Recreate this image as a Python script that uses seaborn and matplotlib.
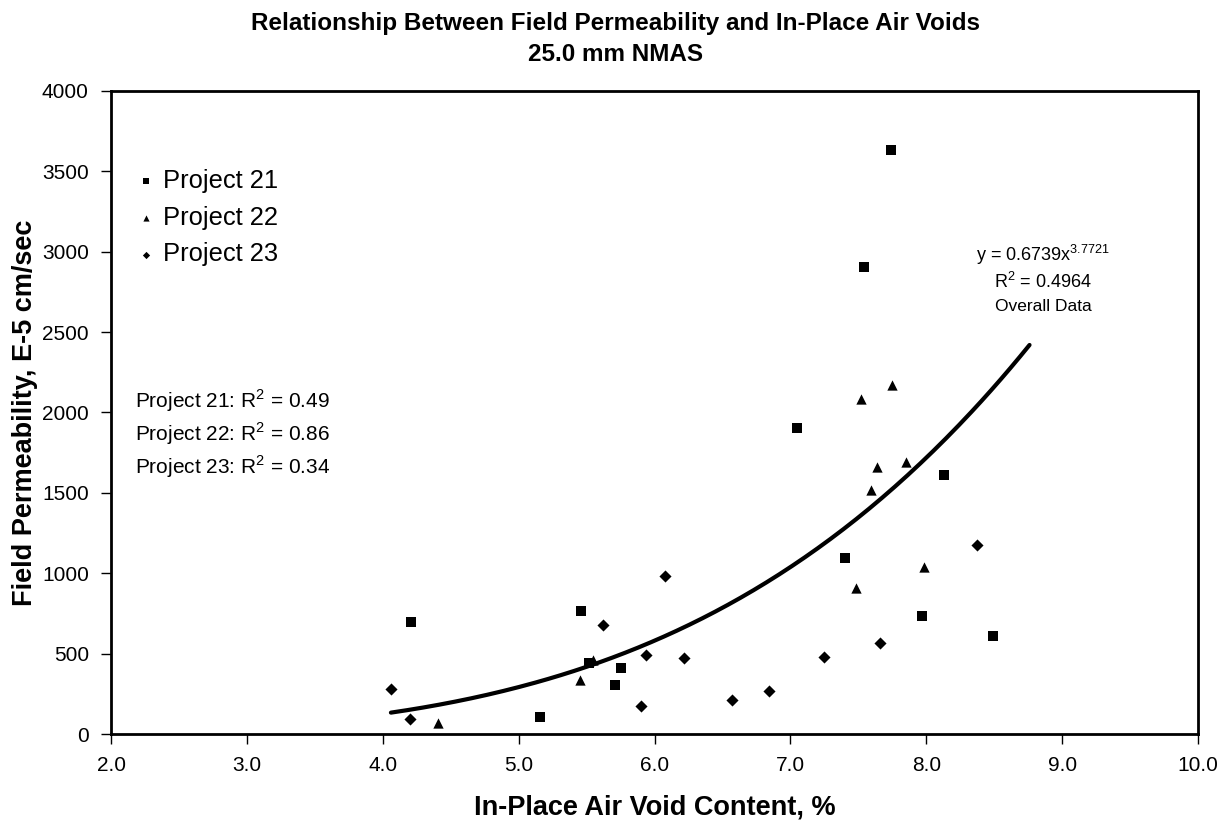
import numpy as np
import pandas as pd
import matplotlib
matplotlib.use("Agg")
import matplotlib.pyplot as plt
import seaborn as sns

# Project 21 (квадраты)
p21_voids = [7.74, 7.54, 7.05, 8.13, 7.40, 7.97, 8.49, 4.21, 5.46, 5.52, 5.75, 5.71, 5.16]
p21_perm = [3633, 2903, 1904, 1609, 1096, 732, 608, 695, 767, 442, 411, 306, 105]

# Project 22 (треугольники)
p22_voids = [5.55, 5.45, 7.48, 4.41, 7.75, 7.52, 7.85, 7.64, 7.59, 7.98]
p22_perm = [459, 335, 910, 70, 2171, 2084, 1695, 1658, 1520, 1042]

# Project 23 (ромбы)
p23_voids = [4.06, 4.20, 5.62, 6.08, 5.94, 5.90, 6.22, 6.57, 6.84, 7.25, 7.66, 8.37]
p23_perm = [277, 95, 678, 982, 494, 176, 471, 209, 269, 480, 566, 1174]

# Линия тренда (степенная) по всем данным
trend_a = 0.6739
trend_b = 3.7721
trend_range = (4.06, 8.76)

projects = ["Project 21", "Project 22", "Project 23"]
r2_values = ["0.49", "0.86", "0.34"]

df = pd.DataFrame({
    "voids": p21_voids + p22_voids + p23_voids,
    "perm": p21_perm + p22_perm + p23_perm,
    "project": [projects[0]] * len(p21_voids) + [projects[1]] * len(p22_voids)
               + [projects[2]] * len(p23_voids),
})

sns.set_style("white")
plt.rcParams["font.family"] = ["Liberation Sans", "DejaVu Sans"]
plt.rcParams["mathtext.fontset"] = "custom"
plt.rcParams["mathtext.rm"] = "Liberation Sans"
for key in ["text.color", "axes.labelcolor", "xtick.color", "ytick.color"]:
    plt.rcParams[key] = "black"

fig = plt.figure(figsize=(12.31, 8.24), dpi=100)
ax = fig.add_axes([0.0902, 0.1092, 0.8830, 0.7804])

# у каждого проекта свой маркер и размер
marker_map = {"Project 21": ("s", 44), "Project 22": ("^", 55), "Project 23": ("D", 38)}
for name in projects:
    sub = df[df["project"] == name]
    m, size = marker_map[name]
    sns.scatterplot(data=sub, x="voids", y="perm", marker=m, s=size, color="black",
                    edgecolor="black", linewidth=0, label=name, ax=ax)

xs = np.linspace(trend_range[0], trend_range[1], 200)
ax.plot(xs, trend_a * xs ** trend_b, color="black", linewidth=3)

ax.set_xlim(2.0, 10.0)
ax.set_ylim(0, 4000)
ax.set_xticks(np.arange(2, 10.5, 1.0))
ax.set_xticklabels([f"{v:.1f}" for v in np.arange(2, 10.5, 1.0)])
ax.set_yticks(np.arange(0, 4001, 500))
ax.tick_params(axis="both", direction="out", length=7, width=1, labelsize=15,
               bottom=True, left=True, pad=9)
ax.tick_params(axis="x", pad=9)
for s in ax.spines.values():
    s.set_color("black")
    s.set_linewidth(2)

ax.set_xlabel("In-Place Air Void Content, %", fontsize=19.5, fontweight="bold", labelpad=14)
ax.set_ylabel("Field Permeability, E-5 cm/sec", fontsize=19.5, fontweight="bold", labelpad=3)
fig.suptitle("Relationship Between Field Permeability and In-Place Air Voids\n25.0 mm NMAS",
             fontsize=17.5, fontweight="bold", y=0.985, linespacing=1.45)

ax.legend(loc="upper left", bbox_to_anchor=(0.020, 0.879), frameon=False,
          fontsize=18.4, handletextpad=0.18, labelspacing=0.5, markerscale=0.6,
          handlelength=1.0, borderpad=0, borderaxespad=0)

ax.text(8.86, 2983, r"y = 0.6739x$^{3.7721}$", fontsize=13, ha="center", va="center")
ax.text(8.86, 2815, r"R$^{2}$ = 0.4964", fontsize=13, ha="center", va="center")
ax.text(8.86, 2660, "Overall Data", fontsize=12.5, ha="center", va="center")

for i, (name, r2) in enumerate(zip(projects, r2_values)):
    ax.text(2.18, 2072 - i * 205, name + r": R$^{2}$ = " + r2, fontsize=15,
            ha="left", va="center")

fig.savefig("out.png", dpi=100)
